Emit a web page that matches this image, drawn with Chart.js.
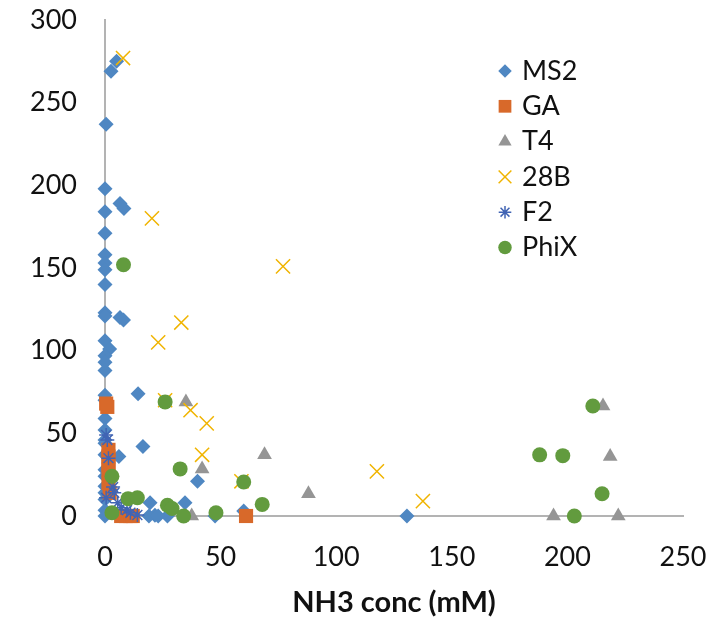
<!DOCTYPE html>
<html>
<head>
<meta charset="utf-8">
<script src="https://cdn.jsdelivr.net/npm/chart.js@4.4.1/dist/chart.umd.min.js"></script>
<style>
  body { margin: 0; background: #fff; }
  #wrap { width: 717px; height: 624px; }
</style>
</head>
<body>
<div id="wrap"><canvas id="chart" width="717" height="624"></canvas></div>
<script>
// values (x = NH3 conc mM)
const seriesNames = ['MS2', 'GA', 'T4', '28B', 'F2', 'PhiX'];

const ms2X = [0.5, 2.6, 5, 0, 0, 0, 0, 0, 0, 0, 6.5, 8.2, 0, 0, 6.5, 8, 0, 2, 0, 0, 0, 0, 0, 0, 0, 0, 0, 0, 14.3, 16.4, 40, 6, 19.5, 34.6, 21.6, 27, 19, 23, 0, 0, 0, 0, 0, 47.6, 60, 130.6, 0, 0];
const ms2Y = [237, 269, 275, 198, 184, 171, 158, 153, 149, 140, 189, 186, 123, 121, 120, 118.5, 106, 101, 97, 93, 88, 73, 70, 59, 52, 46, 44, 37, 74, 42, 21, 36, 8, 8, 0.5, 0, 0, 0, 3.5, 0, 14, 28, 18, 0, 3, 0, 10, 24];

const gaX = [0.5, 1, 1.5, 1.5, 1.5, 1.5, 2, 1.5, 7, 9, 11, 12, 61];
const gaY = [68, 66, 40, 36, 31, 28, 14, 20, 0, 0, 0, 0, 0];

const t4X = [35, 42, 69, 88, 37.5, 194, 222, 218.5, 215.4];
const t4Y = [69, 28.5, 37, 13.5, 0, 0, 0, 36, 66.5];

const b28X = [7.8, 20.3, 33, 23, 77, 37, 44, 42, 26, 59, 117.6, 137.5];
const b28Y = [277, 180, 117, 105, 151, 64, 56, 37, 70, 21, 27, 9];

const f2X = [0.5, 1, 1.5, 3.5, 0.5, 5.5, 11, 14, 9.5, 4, 7];
const f2Y = [49, 46, 35, 17.5, 11, 8, 2, 0.6, 3.6, 14, 5];

const phixX = [8, 26, 32.5, 60, 68, 3, 3, 10, 14, 27, 29, 34, 48, 211, 188, 198, 215, 203];
const phixY = [152, 69, 28.5, 20.6, 7, 24, 2, 10.5, 11, 6.5, 4.5, 0, 2, 66.5, 37, 36.5, 13.5, 0];

const xTicks = [0, 50, 100, 150, 200, 250];
const yTicks = [0, 50, 100, 150, 200, 250, 300];

function pts(xs, ys) {
    return xs.map((x, i) => ({ x: x, y: ys[i] }));
}

const FONT = 'Lato, "Open Sans", sans-serif';

const datasets = [
    { label: seriesNames[0], data: pts(ms2X, ms2Y), pointStyle: 'rectRot', pointRadius: 7.5,
      backgroundColor: '#4f87c2', borderColor: '#4f87c2', borderWidth: 0, order: 6 },
    { label: seriesNames[1], data: pts(gaX, gaY), pointStyle: 'rect', pointRadius: 10,
      backgroundColor: '#d8692a', borderColor: '#d8692a', borderWidth: 0, order: 5 },
    { label: seriesNames[2], data: pts(t4X, t4Y), pointStyle: 'triangle', pointRadius: 8.5,
      backgroundColor: '#959595', borderColor: '#959595', borderWidth: 0, order: 4 },
    { label: seriesNames[3], data: pts(b28X, b28Y), pointStyle: 'crossRot', pointRadius: 10,
      backgroundColor: '#f0b400', borderColor: '#f0b400', borderWidth: 1.5, order: 3 },
    { label: seriesNames[4], data: pts(f2X, f2Y), pointStyle: 'star', pointRadius: 7,
      backgroundColor: '#4164b4', borderColor: '#4164b4', borderWidth: 1.5, order: 2 },
    { label: seriesNames[5], data: pts(phixX, phixY), pointStyle: 'circle', pointRadius: 7.5,
      backgroundColor: '#629b3e', borderColor: '#629b3e', borderWidth: 0, order: 1 }
];
datasets.forEach(d => { d.clip = false; d.pointHoverRadius = d.pointRadius; });

// legend drawn inside the plot, like the Excel one
const insideLegend = {
    id: 'insideLegend',
    afterDraw(chart) {
        const ctx = chart.ctx;
        const x0 = 505, y0 = 71, step = 35.3;
        chart.data.datasets.forEach((d, i) => {
            const y = y0 + i * step;
            ctx.save();
            ctx.fillStyle = d.backgroundColor;
            ctx.strokeStyle = d.borderColor;
            ctx.lineWidth = d.borderWidth || 0;
            Chart.helpers.drawPoint(ctx, {
                pointStyle: d.pointStyle,
                radius: d.pointRadius * 0.9,
                borderWidth: d.borderWidth || 0,
                rotation: 0
            }, x0, y);
            ctx.fillStyle = '#111';
            ctx.font = '27px ' + FONT;
            ctx.textBaseline = 'middle';
            ctx.textAlign = 'left';
            ctx.fillText(d.label, 522, y);
            ctx.restore();
        });
    }
};

// keep the plot box where the reference has it (no extra label overflow padding)
function noPad(s) {
    s.paddingTop = 0; s.paddingBottom = 0; s.paddingLeft = 0; s.paddingRight = 0;
}

const ctx = document.getElementById('chart').getContext('2d');
const chart = new Chart(ctx, {
    type: 'scatter',
    data: { datasets: datasets },
    options: {
        responsive: false,
        animation: false,
        layout: { padding: { left: 0, right: 34, top: 20, bottom: 0 } },
        plugins: { legend: { display: false }, tooltip: { enabled: false } },
        scales: {
            x: {
                type: 'linear', min: 0, max: 250,
                afterBuildTicks: s => { s.ticks = xTicks.map(v => ({ value: v })); },
                afterFit: s => { s.height = 108; noPad(s); },
                grid: { display: false, drawTicks: false },
                border: { display: true, color: '#b3b3b3', width: 2 },
                ticks: { color: '#111', font: { family: FONT, size: 27 }, padding: 25, maxRotation: 0 },
                title: { display: true, text: 'NH3 conc (mM)', color: '#111',
                         font: { family: FONT, size: 29, weight: 'bold' }, padding: { top: 4, bottom: 4 } }
            },
            y: {
                type: 'linear', min: 0, max: 300,
                afterBuildTicks: s => { s.ticks = yTicks.map(v => ({ value: v })); },
                afterFit: s => { s.width = 105; noPad(s); },
                grid: { display: false, drawTicks: false },
                border: { display: true, color: '#b3b3b3', width: 2 },
                ticks: { color: '#111', font: { family: FONT, size: 27 }, padding: 28 }
            }
        }
    },
    plugins: [insideLegend]
});
</script>
</body>
</html>
